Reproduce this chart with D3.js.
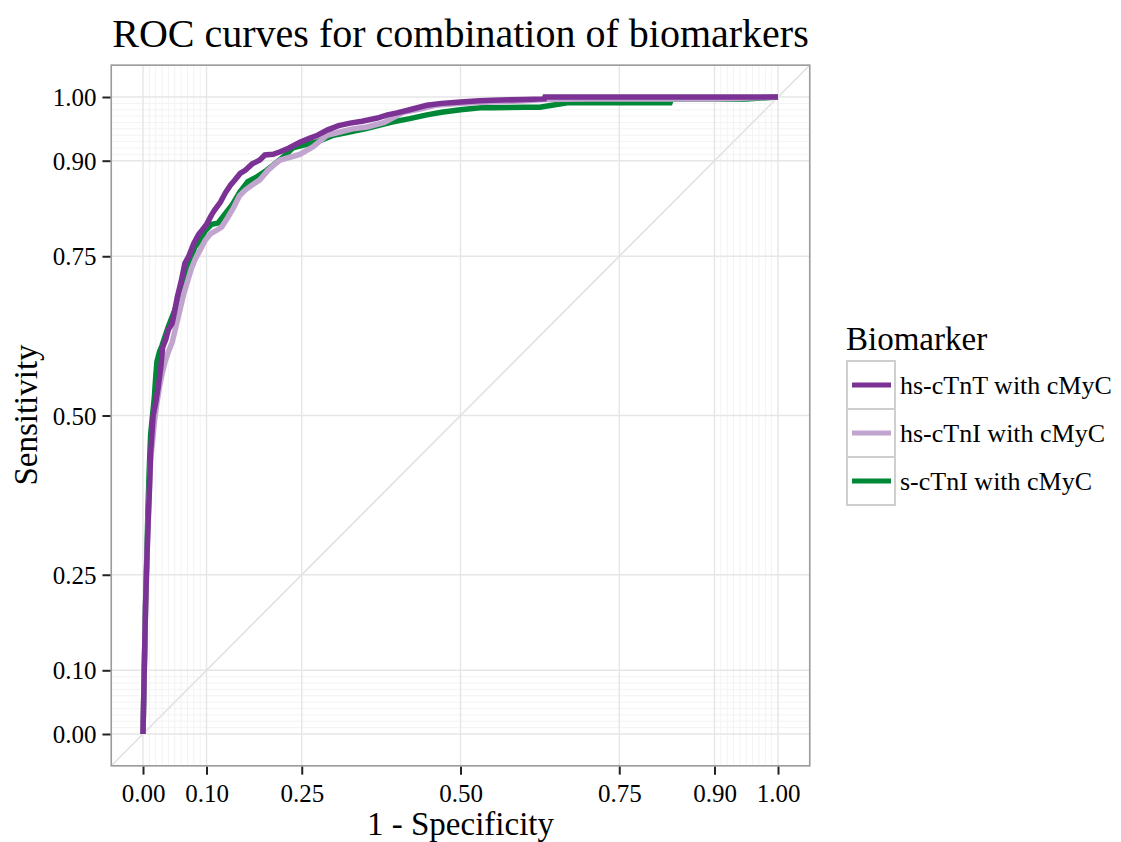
<!DOCTYPE html>
<html><head><meta charset="utf-8">
<script src="https://cdn.jsdelivr.net/npm/d3@7"></script>
<style>body{margin:0;background:#fff}svg{display:block}text{font-family:"Liberation Serif","Times New Roman",serif;fill:#000}</style>
</head><body>
<svg id="c" width="1121" height="842"></svg>
<script>
const title = "ROC curves for combination of biomarkers";
const xLabel = "1 - Specificity";
const yLabel = "Sensitivity";
const legendTitle = "Biomarker";
const seriesNames = ["hs-cTnT with cMyC", "hs-cTnI with cMyC", "s-cTnI with cMyC"];
const seriesColors = ["#7b3294", "#c2a5cf", "#008837"];
const majorBreaks = [0, 0.1, 0.25, 0.5, 0.75, 0.9, 1];
const minorBreaks = [0.01,0.02,0.03,0.04,0.05,0.06,0.07,0.08,0.09,0.91,0.92,0.93,0.94,0.95,0.96,0.97,0.98,0.99];

// hs-cTnT with cMyC
const fprTnT = [0,0.002,0.004,0.006,0.008,0.010,0.012,0.014,0.016,0.020,0.024,0.028,0.031,0.036,0.040,0.046,0.050,0.054,0.060,0.066,0.072,0.080,0.088,0.093,0.100,0.108,0.113,0.122,0.130,0.138,0.145,0.153,0.161,0.172,0.184,0.192,0.205,0.216,0.230,0.247,0.262,0.275,0.290,0.308,0.326,0.345,0.369,0.385,0.400,0.420,0.447,0.470,0.500,0.530,0.551,0.600,0.632,0.633,0.700,0.800,0.900,1.0];
const tprTnT = [0,0.10,0.20,0.27,0.33,0.38,0.44,0.47,0.50,0.52,0.545,0.575,0.607,0.62,0.635,0.645,0.665,0.686,0.71,0.739,0.75,0.77,0.785,0.791,0.80,0.815,0.823,0.835,0.85,0.862,0.870,0.880,0.885,0.895,0.901,0.909,0.91,0.914,0.92,0.929,0.935,0.94,0.948,0.955,0.959,0.962,0.967,0.972,0.975,0.98,0.987,0.99,0.992,0.994,0.995,0.996,0.997,1.0,1.0,1.0,1.0,1.0];
// hs-cTnI with cMyC
const fprTnI = [0,0.002,0.004,0.006,0.008,0.010,0.012,0.015,0.018,0.022,0.026,0.030,0.035,0.040,0.046,0.052,0.058,0.064,0.070,0.076,0.082,0.090,0.098,0.106,0.115,0.124,0.133,0.142,0.152,0.161,0.172,0.184,0.197,0.208,0.216,0.230,0.247,0.268,0.290,0.310,0.330,0.353,0.380,0.410,0.440,0.460,0.500,0.550,0.600,0.632,0.700,0.800,0.900,1.0];
const tprTnI = [0,0.10,0.20,0.27,0.33,0.38,0.43,0.46,0.49,0.52,0.545,0.565,0.585,0.60,0.615,0.64,0.665,0.69,0.71,0.73,0.745,0.76,0.775,0.785,0.79,0.796,0.81,0.825,0.845,0.854,0.862,0.87,0.885,0.895,0.901,0.905,0.91,0.922,0.94,0.945,0.95,0.953,0.96,0.976,0.982,0.987,0.99,0.992,0.994,0.996,0.997,0.997,0.997,1.0];
// s-cTnI with cMyC
const fprSTnI = [0,0.002,0.004,0.006,0.008,0.010,0.012,0.015,0.018,0.020,0.022,0.026,0.030,0.035,0.040,0.046,0.052,0.058,0.064,0.070,0.076,0.082,0.090,0.098,0.108,0.118,0.128,0.140,0.152,0.165,0.180,0.195,0.205,0.220,0.236,0.255,0.275,0.300,0.325,0.353,0.373,0.394,0.420,0.447,0.470,0.500,0.531,0.551,0.600,0.625,0.668,0.750,0.830,0.832,0.950,1.0];
const tprSTnI = [0,0.10,0.20,0.28,0.36,0.42,0.47,0.50,0.53,0.56,0.585,0.60,0.61,0.625,0.64,0.655,0.67,0.69,0.71,0.73,0.75,0.765,0.775,0.79,0.80,0.802,0.815,0.83,0.85,0.867,0.875,0.885,0.893,0.905,0.92,0.925,0.93,0.94,0.945,0.951,0.956,0.961,0.966,0.972,0.976,0.98,0.983,0.983,0.984,0.984,0.991,0.991,0.991,0.997,0.997,1.0];

const series = [
  {name: seriesNames[0], color: seriesColors[0], fpr: fprTnT, tpr: tprTnT},
  {name: seriesNames[1], color: seriesColors[1], fpr: fprTnI, tpr: tprTnI},
  {name: seriesNames[2], color: seriesColors[2], fpr: fprSTnI, tpr: tprSTnI}
];

const svg = d3.select("#c");
const P = {l: 111.25, r: 809.75, t: 65.15, b: 765.85};
const x = d3.scaleLinear().domain([-0.05, 1.05]).range([P.l, P.r]);
const y = d3.scaleLinear().domain([-0.05, 1.05]).range([P.b, P.t]);
const fmt = d3.format(".2f");

svg.append("rect").attr("x", P.l).attr("y", P.t).attr("width", P.r - P.l).attr("height", P.b - P.t).attr("fill", "#fff");

const grid = svg.append("g");
grid.selectAll(".mx").data(minorBreaks).join("line")
  .attr("x1", d => x(d)).attr("x2", d => x(d)).attr("y1", P.t).attr("y2", P.b)
  .attr("stroke", "#f3f3f3").attr("stroke-width", 1);
grid.selectAll(".my").data(minorBreaks).join("line")
  .attr("y1", d => y(d)).attr("y2", d => y(d)).attr("x1", P.l).attr("x2", P.r)
  .attr("stroke", "#f3f3f3").attr("stroke-width", 1);
grid.selectAll(".Mx").data(majorBreaks).join("line")
  .attr("x1", d => x(d)).attr("x2", d => x(d)).attr("y1", P.t).attr("y2", P.b)
  .attr("stroke", "#e6e6e6").attr("stroke-width", 1.4);
grid.selectAll(".My").data(majorBreaks).join("line")
  .attr("y1", d => y(d)).attr("y2", d => y(d)).attr("x1", P.l).attr("x2", P.r)
  .attr("stroke", "#e6e6e6").attr("stroke-width", 1.4);

// diagonal reference
svg.append("line").attr("x1", x(-0.05)).attr("y1", y(-0.05)).attr("x2", x(1.05)).attr("y2", y(1.05))
  .attr("stroke", "#e2e2e2").attr("stroke-width", 1.6);

const line = d3.line().x(d => x(d[0])).y(d => y(d[1]));
const plotOrder = [2, 1, 0];
plotOrder.forEach(i => {
  const s = series[i];
  svg.append("path").datum(s.fpr.map((f, k) => [f, s.tpr[k]]))
    .attr("d", line).attr("fill", "none").attr("stroke", s.color)
    .attr("stroke-width", 5.5).attr("stroke-linejoin", "miter").attr("stroke-linecap", "butt");
});

svg.append("rect").attr("x", P.l).attr("y", P.t).attr("width", P.r - P.l).attr("height", P.b - P.t)
  .attr("fill", "none").attr("stroke", "#9a9a9a").attr("stroke-width", 1.6);

// axes
const xa = svg.append("g").attr("transform", `translate(0,${P.b + 0.8})`)
  .call(d3.axisBottom(x).tickValues(majorBreaks).tickFormat(fmt).tickSize(8).tickPadding(10));
const ya = svg.append("g").attr("transform", `translate(${P.l - 0.8},0)`)
  .call(d3.axisLeft(y).tickValues(majorBreaks).tickFormat(fmt).tickSize(8).tickPadding(6));
[xa, ya].forEach(a => {
  a.select(".domain").remove();
  a.selectAll(".tick line").attr("stroke", "#222").attr("stroke-width", 2);
  a.selectAll(".tick text").attr("font-family", "Liberation Serif").attr("font-size", 25).attr("fill", "#111");
});
ya.selectAll(".tick text").attr("dy", "0.34em");

// titles
svg.append("text").attr("x", (P.l + P.r) / 2).attr("y", 47).attr("text-anchor", "middle")
  .attr("font-size", 40).text(title);
svg.append("text").attr("x", (P.l + P.r) / 2).attr("y", 835).attr("text-anchor", "middle")
  .attr("font-size", 33).text(xLabel);
svg.append("text").attr("transform", `translate(37,415) rotate(-90)`).attr("text-anchor", "middle")
  .attr("font-size", 33).text(yLabel);

// legend
const lg = svg.append("g");
lg.append("text").attr("x", 846).attr("y", 350).attr("font-size", 33).text(legendTitle);
series.forEach((s, i) => {
  const top = 361 + i * 48;
  lg.append("rect").attr("x", 847).attr("y", top).attr("width", 48).attr("height", 48)
    .attr("fill", "#fff").attr("stroke", "#cfcfcf").attr("stroke-width", 2);
  lg.append("line").attr("x1", 852).attr("x2", 891).attr("y1", top + 24).attr("y2", top + 24)
    .attr("stroke", s.color).attr("stroke-width", 5);
  lg.append("text").attr("x", 900).attr("y", top + 24).attr("dy", "0.34em")
    .attr("font-size", 26).text(s.name);
});
</script>
</body></html>
